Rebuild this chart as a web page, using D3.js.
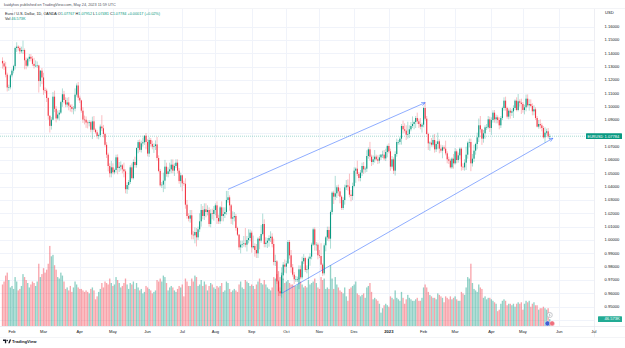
<!DOCTYPE html>
<html><head><meta charset="utf-8">
<script src="https://cdn.jsdelivr.net/npm/d3@7"></script>
<style>html,body{margin:0;padding:0;background:#fff;}svg{display:block;font-family:"Liberation Sans",Arial,sans-serif;}</style>
</head><body><svg id="c" width="625" height="348"></svg>
<script>
// ---------------- DATA ----------------
const startDate = "2022-01-24";
const firstOpen = 1.1343;
// daily closes, one trading week per row (Mon..Fri), Jan 24 2022 .. May 24 2023
const close = [
1.1325,1.1301,1.1240,1.1144,1.1145,
1.1235,1.1270,1.1304,1.1440,1.1450,
1.1440,1.1415,1.1425,1.1425,1.1348,
1.1307,1.1359,1.1374,1.1360,1.1321,
1.1306,1.1307,1.1309,1.1192,1.1270,
1.1219,1.1124,1.1120,1.1065,1.0932,
1.0856,1.0902,1.1075,1.0984,1.0912,
1.0941,1.0955,1.1034,1.1093,1.1050,
1.1016,1.1032,1.1008,1.0998,1.0983,
1.0985,1.1090,1.1159,1.1067,1.1047,
1.0970,1.0903,1.0902,1.0881,1.0877,
1.0884,1.0827,1.0890,1.0827,1.0808,
1.0780,1.0786,1.0851,1.0838,1.0795,
1.0714,1.0640,1.0555,1.0500,1.0545,
1.0508,1.0525,1.0620,1.0540,1.0550,
1.0560,1.0530,1.0515,1.0381,1.0412,
1.0435,1.0545,1.0464,1.0585,1.0562,
1.0690,1.0734,1.0676,1.0725,1.0733,
1.0782,1.0735,1.0648,1.0750,1.0720,
1.0700,1.0705,1.0717,1.0615,1.0518,
1.0410,1.0415,1.0445,1.0550,1.0495,
1.0515,1.0530,1.0565,1.0520,1.0555,
1.0580,1.0520,1.0442,1.0485,1.0425,
1.0422,1.0265,1.0180,1.0160,1.0185,
1.0040,1.0035,1.0060,1.0020,1.0080,
1.0140,1.0225,1.0180,1.0230,1.0210,
1.0225,1.0120,1.0200,1.0195,1.0225,
1.0260,1.0165,1.0140,1.0245,1.0180,
1.0195,1.0210,1.0300,1.0320,1.0260,
1.0160,1.0170,1.0180,1.0090,1.0040,
0.9945,0.9965,0.9970,0.9975,0.9965,
1.0000,1.0015,1.0055,0.9945,0.9955,
0.9925,0.9900,1.0010,0.9995,1.0045,
1.0120,0.9970,0.9980,0.9995,1.0015,
1.0025,0.9970,0.9835,0.9840,0.9690,
0.9615,0.9600,0.9735,0.9815,0.9800,
0.9825,0.9985,0.9885,0.9795,0.9740,
0.9705,0.9705,0.9705,0.9780,0.9720,
0.9840,0.9865,0.9775,0.9780,0.9860,
0.9875,0.9965,1.0080,0.9965,0.9965,
0.9885,0.9880,0.9815,0.9750,0.9960,
1.0020,1.0075,1.0010,1.0210,1.0355,
1.0325,1.0350,1.0395,1.0365,1.0325,
1.0240,1.0300,1.0395,1.0410,1.0400,
1.0340,1.0330,1.0405,1.0520,1.0535,
1.0495,1.0465,1.0505,1.0555,1.0530,
1.0535,1.0630,1.0680,1.0625,1.0585,
1.0605,1.0625,1.0605,1.0595,1.0620,
1.0640,1.0640,1.0612,1.0660,1.0705,
1.0665,1.0550,1.0605,1.0520,1.0645,
1.0735,1.0735,1.0760,1.0855,1.0830,
1.0820,1.0790,1.0795,1.0830,1.0855,
1.0870,1.0885,1.0915,1.0890,1.0870,
1.0850,1.0865,1.0990,1.0910,1.0795,
1.0725,1.0730,1.0715,1.0750,1.0680,
1.0720,1.0740,1.0685,1.0670,1.0695,
1.0685,1.0650,1.0605,1.0595,1.0545,
1.0610,1.0575,1.0665,1.0600,1.0635,
1.0685,1.0550,1.0545,1.0580,1.0640,
1.0730,1.0735,1.0575,1.0610,1.0670,
1.0720,1.0770,1.0860,1.0830,1.0760,
1.0800,1.0845,1.0845,1.0905,1.0840,
1.0900,1.0955,1.0905,1.0920,1.0900,
1.0860,1.0915,1.0990,1.1045,1.0990,
1.0925,1.0970,1.0955,1.0965,1.0990,
1.1045,1.0975,1.1040,1.1030,1.1020,
1.0975,1.0995,1.1060,1.1010,1.1020,
1.1005,1.0965,1.0980,1.0915,1.0850,
1.0870,1.0860,1.0840,1.0770,1.0805,
1.0815,1.07767,1.07784
];
// upper wick above the body, in pips
const wickUp = [
27,20,35,15,20, 10,15,10,10,33, 10,12,25,70,12, 20,8,21,20,20, 45,40,30,5,5,
20,35,20,15,5, 2,20,35,45,20, 30,20,10,44,25, 20,35,40,10,20, 20,47,15,26,15,
5,25,30,25,15, 15,10,35,40,10, 15,10,15,85,25, 10,20,15,20,48, 30,10,20,22,35,
30,10,50,15,20, 15,15,30,20,40, 5,15,20,20,35, 5,20,20,20,15, 25,20,30,56,20,
15,20,60,51,30, 30,50,40,40,20, 26,25,20,20,5, 20,41,35,20,40, 40,25,35,30,20,
60,45,30,45,45, 35,20,30,35,30, 15,30,25,10,45, 50,35,68,48,15, 10,45,30,15,10,
5,30,25,55,115, 30,65,25,15,78, 20,45,10,20,67, 78,35,40,20,20, 40,25,40,50,10,
10,30,60,20,39, 20,15,15,40,25, 20,25,20,30,29, 35,30,10,30,15, 25,15,13,15,20,
15,40,96,10,15, 10,25,25,12,10, 15,131,15,20,25, 10,20,20,40,45, 97,35,25,25,10,
60,15,20,25,30, 15,43,15,56,15, 30,50,15,30,20, 5,30,35,25,10, 20,20,25,15,20,
25,15,15,15,40, 45,40,92,30,30, 57,10,15,40,20, 45,15,10,43,20, 10,10,35,40,45,
20,65,15,30,15, 15,60,15,20,15, 10,35,25,15,20, 10,10,25,25,60, 10,25,25,35,45,
10,35,51,70,5, 25,15,25,25,20, 20,18,20,20,15, 20,15,10,25,30, 10,15,20,15,20,
10,25,55,15,30, 15,20,31,32,35, 35,20,30,15,15, 30,35,15,15,40, 20,25,16.8
];
// lower wick below the body, in pips
const wickDown = [
40,25,20,30,25, 15,15,20,25,30, 20,20,15,30,68, 27,10,20,20,14, 20,10,15,86,42,
50,35,20,30,30, 50,28,5,25,30, 10,45,10,35,25, 20,20,35,35,25, 40,20,15,20,20,
15,25,35,40,40, 25,20,70,15,10, 20,25,15,20,25, 15,25,40,30,30, 15,15,20,47,30,
30,30,45,31,35, 35,15,10,10,20, 20,40,15,20,25, 20,55,21,25,20, 20,47,30,20,10,
10,20,56,63,20, 25,20,30,20,40, 15,20,20,45,59, 15,30,20,20,30, 35,30,60,68,20,
20,40,25,30,40, 25,20,25,40,50, 40,45,20,20,39, 40,30,20,20,40, 40,45,30,20,10,
20,45,25,20,20, 51,25,25,40,10, 50,35,35,65,15, 10,25,25,40,45, 30,25,25,30,20,
35,20,32,35,45, 50,5,25,40,15, 35,20,20,73,15, 15,20,15,25,75, 53,20,10,45,45,
30,15,40,20,15, 45,25,20,75,20, 55,25,35,35,50, 15,15,35,20,30, 20,40,30,10,91,
15,25,25,25,35, 25,25,20,30,30, 20,25,10,25,20, 20,25,15,20,40, 15,31,15,25,37,
20,20,20,45,30, 15,40,30,30,15, 15,40,45,20,30, 20,45,20,15,5, 50,56,15,15,25,
20,40,35,15,57, 15,15,30,25,9, 12,40,10,25,20, 30,30,21,25,55, 30,35,59,24,25,
30,40,35,25,47, 30,40,20,10,30, 52,20,25,30,25, 30,20,15,20,20, 15,20,45,25,50,
15,10,10,30,75, 20,33,30,15,40, 10,30,30,15,5, 15,25,25,10,40, 15,15,28.6
];
// daily volume, thousands
const volumeK = [
280,300,340,360,310, 260,270,250,330,300, 240,250,270,350,330, 310,290,260,280,300, 290,270,300,420,330,
350,390,360,380,420, 540,470,480,410,380, 330,320,360,340,300, 250,260,240,270,230, 260,300,280,260,250,
250,240,230,240,230, 220,250,260,240,180, 200,230,250,290,260, 300,290,280,320,290, 270,280,330,310,290,
260,270,290,320,280, 250,290,280,300,250, 290,260,240,250,220, 230,270,260,250,240, 220,230,240,310,300,
320,300,340,330,290, 240,260,270,260,240, 230,250,270,260,280, 200,320,300,270,270, 320,300,340,330,270,
280,310,270,300,280, 240,270,290,280,260, 250,270,260,270,290, 230,240,300,290,250, 230,240,250,240,230,
280,300,260,250,310, 300,290,270,280,270, 250,280,300,320,290, 280,310,280,260,250, 240,260,330,320,350,
370,330,360,320,290, 300,310,290,280,280, 270,270,280,320,300, 280,260,270,260,310, 280,290,300,320,290,
260,250,330,310,320, 250,260,250,410,320, 250,330,280,260,240, 230,220,260,200,170, 250,260,270,280,300,
220,210,200,210,220, 190,260,270,290,230, 180,190,180,170,150, 90,120,140,150,140, 130,200,190,180,240,
190,180,170,230,190, 150,180,210,190,180, 170,170,180,190,170, 170,190,260,280,260, 230,210,200,190,190,
180,220,210,200,190, 160,200,190,180,200, 180,190,200,180,170, 170,230,220,210,260, 330,320,420,290,250,
240,230,280,260,250, 190,200,180,190,190, 180,170,160,150,100, 110,150,170,180,170, 140,150,150,140,150,
130,150,160,150,160, 110,150,170,160,170, 130,150,160,140,140, 110,120,120,130,120, 110,120,46.573
];
const priceTicks = [1.16,1.15,1.14,1.13,1.12,1.11,1.10,1.09,1.08,1.07,1.06,1.05,1.04,1.03,1.02,1.01,1.00,0.99,0.98,0.97,0.96,0.95,0.94];
const monthTicks = ["2022-02-01","2022-03-01","2022-04-01","2022-05-02","2022-06-01","2022-07-01","2022-08-01","2022-09-01","2022-10-03","2022-11-01","2022-12-01","2023-01-02","2023-02-01","2023-03-01","2023-04-03","2023-05-01","2023-06-01","2023-07-03"];
const monthLabels = ["Feb","Mar","Apr","May","Jun","Jul","Aug","Sep","Oct","Nov","Dec","2023","Feb","Mar","Apr","May","Jun","Jul"];
const trendLines = [
  {from:["2022-08-11",1.0380], to:["2023-02-02",1.1030]},
  {from:["2022-09-28",0.9600], to:["2023-05-26",1.0763]}
];
const header = {
  byline:"kaidyhos published on TradingView.com, May 24, 2023 11:59 UTC",
  title:"Euro / U.S. Dollar, 1D, OANDA",
  ohlc:[["O","1.07767"],["H","1.07952"],["L","1.07481"],["C","1.07784"]],
  change:"+0.00017 (+0.02%)",
  vol:"46.573K"
};
const symbol = "EURUSD", currency = "USD";

// ---------------- LAYOUT ----------------
const W=625,H=348, paneL=0, paneR=594, paneT=9, paneB=326;
const barStep = 1.577, firstBarX = 2.5;
const UP="#089981", DOWN="#f23645", TXT="#131722", GRID="#f0f3fa", BORDER="#e0e3eb", TREND="#2962ff";

const svg = d3.select("#c");
const fmtDay = d3.utcFormat("%Y-%m-%d");
const days = d3.utcDay.range(new Date(startDate+"T00:00:00Z"), new Date("2023-07-08T00:00:00Z"))
  .filter(d => d.getUTCDay()!==0 && d.getUTCDay()!==6);
const dayIndex = new Map(days.map((d,i)=>[fmtDay(d),i]));

const x = d3.scaleBand().domain(d3.range(days.length))
  .range([firstBarX - barStep/2, firstBarX - barStep/2 + days.length*barStep]).padding(0);
const cx = i => x(i) + x.bandwidth()/2;
const y = d3.scaleLinear().domain([0.94,1.16]).range([320,26.667]);
const yVol = d3.scaleLinear().domain([0,580]).range([paneB,240]);

const candles = close.map((c,i)=>{
  const o = i===0 ? firstOpen : close[i-1];
  return {i, o, c, h: Math.max(o,c)+wickUp[i]/1e4, l: Math.min(o,c)-wickDown[i]/1e4, v: volumeK[i], up: c>=o};
});
const last = candles[candles.length-1];
const py = y(last.c), vy = yVol(last.v);

svg.append("rect").attr("width",W).attr("height",H).attr("fill","#fff");
svg.append("defs").append("clipPath").attr("id","pane").append("rect")
  .attr("x",paneL).attr("y",paneT).attr("width",paneR-paneL).attr("height",paneB-paneT);

// grid
const g = svg.append("g").attr("clip-path","url(#pane)");
g.selectAll("line.hg").data(priceTicks).join("line")
  .attr("x1",paneL).attr("x2",paneR).attr("y1",d=>Math.round(y(d))+0.5).attr("y2",d=>Math.round(y(d))+0.5)
  .attr("stroke",GRID).attr("stroke-width",1);
g.selectAll("line.vg").data(monthTicks).join("line")
  .attr("x1",d=>Math.round(cx(dayIndex.get(d)))+0.5).attr("x2",d=>Math.round(cx(dayIndex.get(d)))+0.5)
  .attr("y1",paneT).attr("y2",paneB).attr("stroke",GRID).attr("stroke-width",1);

// volume
g.selectAll("rect.vol").data(candles).join("rect")
  .attr("x",d=>cx(d.i)-barStep*0.42).attr("width",barStep*0.84)
  .attr("y",d=>yVol(d.v)).attr("height",d=>paneB-yVol(d.v))
  .attr("fill",d=>d.up?UP:DOWN).attr("fill-opacity",0.45);

// current price line
g.append("line").attr("x1",paneL).attr("x2",paneR).attr("y1",py).attr("y2",py)
  .attr("stroke",UP).attr("stroke-opacity",0.6).attr("stroke-width",0.6).attr("stroke-dasharray","1,1");

// candles
g.selectAll("line.wick").data(candles).join("line")
  .attr("x1",d=>cx(d.i)).attr("x2",d=>cx(d.i)).attr("y1",d=>y(d.h)).attr("y2",d=>y(d.l))
  .attr("stroke",d=>d.up?UP:DOWN).attr("stroke-width",0.55).attr("stroke-opacity",0.6);
g.selectAll("rect.body").data(candles).join("rect")
  .attr("x",d=>cx(d.i)-0.55).attr("width",1.1)
  .attr("y",d=>y(Math.max(d.o,d.c))).attr("height",d=>Math.max(0.6,Math.abs(y(d.o)-y(d.c))))
  .attr("fill",d=>d.up?UP:DOWN);

// trend lines
trendLines.forEach(t=>{
  const x1=cx(dayIndex.get(t.from[0])), y1=y(t.from[1]), x2=cx(dayIndex.get(t.to[0])), y2=y(t.to[1]);
  g.append("line").attr("x1",x1).attr("y1",y1).attr("x2",x2).attr("y2",y2)
    .attr("stroke",TREND).attr("stroke-opacity",0.75).attr("stroke-width",0.7);
  const a=Math.atan2(y2-y1,x2-x1), L=4, s=0.45;
  const p1=[x2-L*Math.cos(a-s), y2-L*Math.sin(a-s)], p2=[x2-L*Math.cos(a+s), y2-L*Math.sin(a+s)];
  g.append("path").attr("d",`M${p1}L${x2},${y2}L${p2}`).attr("fill","none")
    .attr("stroke",TREND).attr("stroke-opacity",0.75).attr("stroke-width",0.7);
});

// event icons near last bar
const evx = cx(last.i);
g.append("circle").attr("cx",evx).attr("cy",315).attr("r",2.6).attr("fill","#fff").attr("stroke","#9598a1").attr("stroke-width",0.5);
g.append("path").attr("d",`M${evx+0.4},${313.4}L${evx-0.7},${315.2}L${evx+0.5},${315.2}L${evx-0.4},${316.7}`).attr("fill","none").attr("stroke","#787b86").attr("stroke-width",0.4);
g.append("circle").attr("cx",evx-2.2).attr("cy",323.4).attr("r",2.5).attr("fill","#3d5fd6").attr("stroke","#fff").attr("stroke-width",0.4);
g.append("circle").attr("cx",evx+2.4).attr("cy",323.4).attr("r",2.5).attr("fill","#ef6f7d").attr("stroke","#fff").attr("stroke-width",0.4);

// borders
svg.append("line").attr("x1",paneR+0.5).attr("x2",paneR+0.5).attr("y1",paneT).attr("y2",337).attr("stroke",BORDER).attr("stroke-width",0.6);
svg.append("line").attr("x1",0).attr("x2",W).attr("y1",paneB+0.5).attr("y2",paneB+0.5).attr("stroke",BORDER).attr("stroke-width",0.6);
svg.append("line").attr("x1",0).attr("x2",W).attr("y1",paneT-0.5).attr("y2",paneT-0.5).attr("stroke",BORDER).attr("stroke-width",0.4);
svg.append("line").attr("x1",0).attr("x2",W).attr("y1",337.5).attr("y2",337.5).attr("stroke",BORDER).attr("stroke-width",0.4);

// price axis (tick labels hidden where the last-value labels sit, as TradingView does)
const fmt5 = d3.format(".5f");
const ax = svg.append("g").attr("font-size",4.1).attr("fill",TXT);
ax.append("text").attr("x",605).attr("y",14.4).text(currency);
ax.selectAll("text.p").data(priceTicks.filter(d=>Math.abs(y(d)-py)>5 && Math.abs(y(d)-vy)>5)).join("text")
  .attr("x",604.5).attr("y",d=>y(d)+1.45).text(d=>fmt5(d));

// time axis
const tx = svg.append("g").attr("font-size",4.1).attr("fill",TXT).attr("text-anchor","middle");
tx.selectAll("text").data(monthTicks).join("text")
  .attr("x",d=>cx(dayIndex.get(d))).attr("y",333.3)
  .attr("font-weight",(d,i)=>/^\d{4}$/.test(monthLabels[i])?"bold":null)
  .text((d,i)=>monthLabels[i]);

// price label
svg.append("rect").attr("x",586).attr("y",py-2.9).attr("width",36).attr("height",5.8).attr("rx",0.6).attr("fill",UP);
svg.append("text").attr("x",587.5).attr("y",py+1.4).attr("font-size",3.7).attr("fill","#fff").text(symbol);
svg.append("text").attr("x",604.5).attr("y",py+1.4).attr("font-size",4.1).attr("fill","#fff").text(fmt5(last.c));
// volume label
svg.append("rect").attr("x",598).attr("y",vy-2.9).attr("width",24).attr("height",5.8).attr("rx",0.6).attr("fill","#22ab94");
svg.append("text").attr("x",604.5).attr("y",vy+1.4).attr("font-size",4.1).attr("fill","#fff").text(header.vol);

// header
const hd = svg.append("g");
hd.append("text").attr("x",4).attr("y",6.2).attr("font-size",3.8).attr("fill","#50535e").text(header.byline);
const t2 = hd.append("text").attr("x",5).attr("y",14.6).attr("font-size",3.8).attr("fill",TXT);
t2.append("tspan").text(header.title+"  ");
header.ohlc.forEach(([k,v])=>{ t2.append("tspan").text(k); t2.append("tspan").attr("fill",UP).text(v+" "); });
t2.append("tspan").attr("fill",UP).text(header.change);
const t3 = hd.append("text").attr("x",5).attr("y",20.2).attr("font-size",3.8).attr("fill",TXT);
t3.append("tspan").text("Vol ");
t3.append("tspan").attr("fill",UP).text(header.vol);

// footer logo
const lg = svg.append("g").attr("fill",TXT);
lg.append("path").attr("d","M3,339.6h3.2v3.6h-1.3v-2.3h-1.9z");
lg.append("circle").attr("cx",7.2).attr("cy",340.4).attr("r",0.75);
lg.append("path").attr("d","M8.3,343.2l1.4,-3.6h1.4l-1.4,3.6z");
svg.append("text").attr("x",12).attr("y",343).attr("font-size",4.2).attr("font-weight","bold").attr("fill",TXT).text("TradingView");
</script></body></html>
